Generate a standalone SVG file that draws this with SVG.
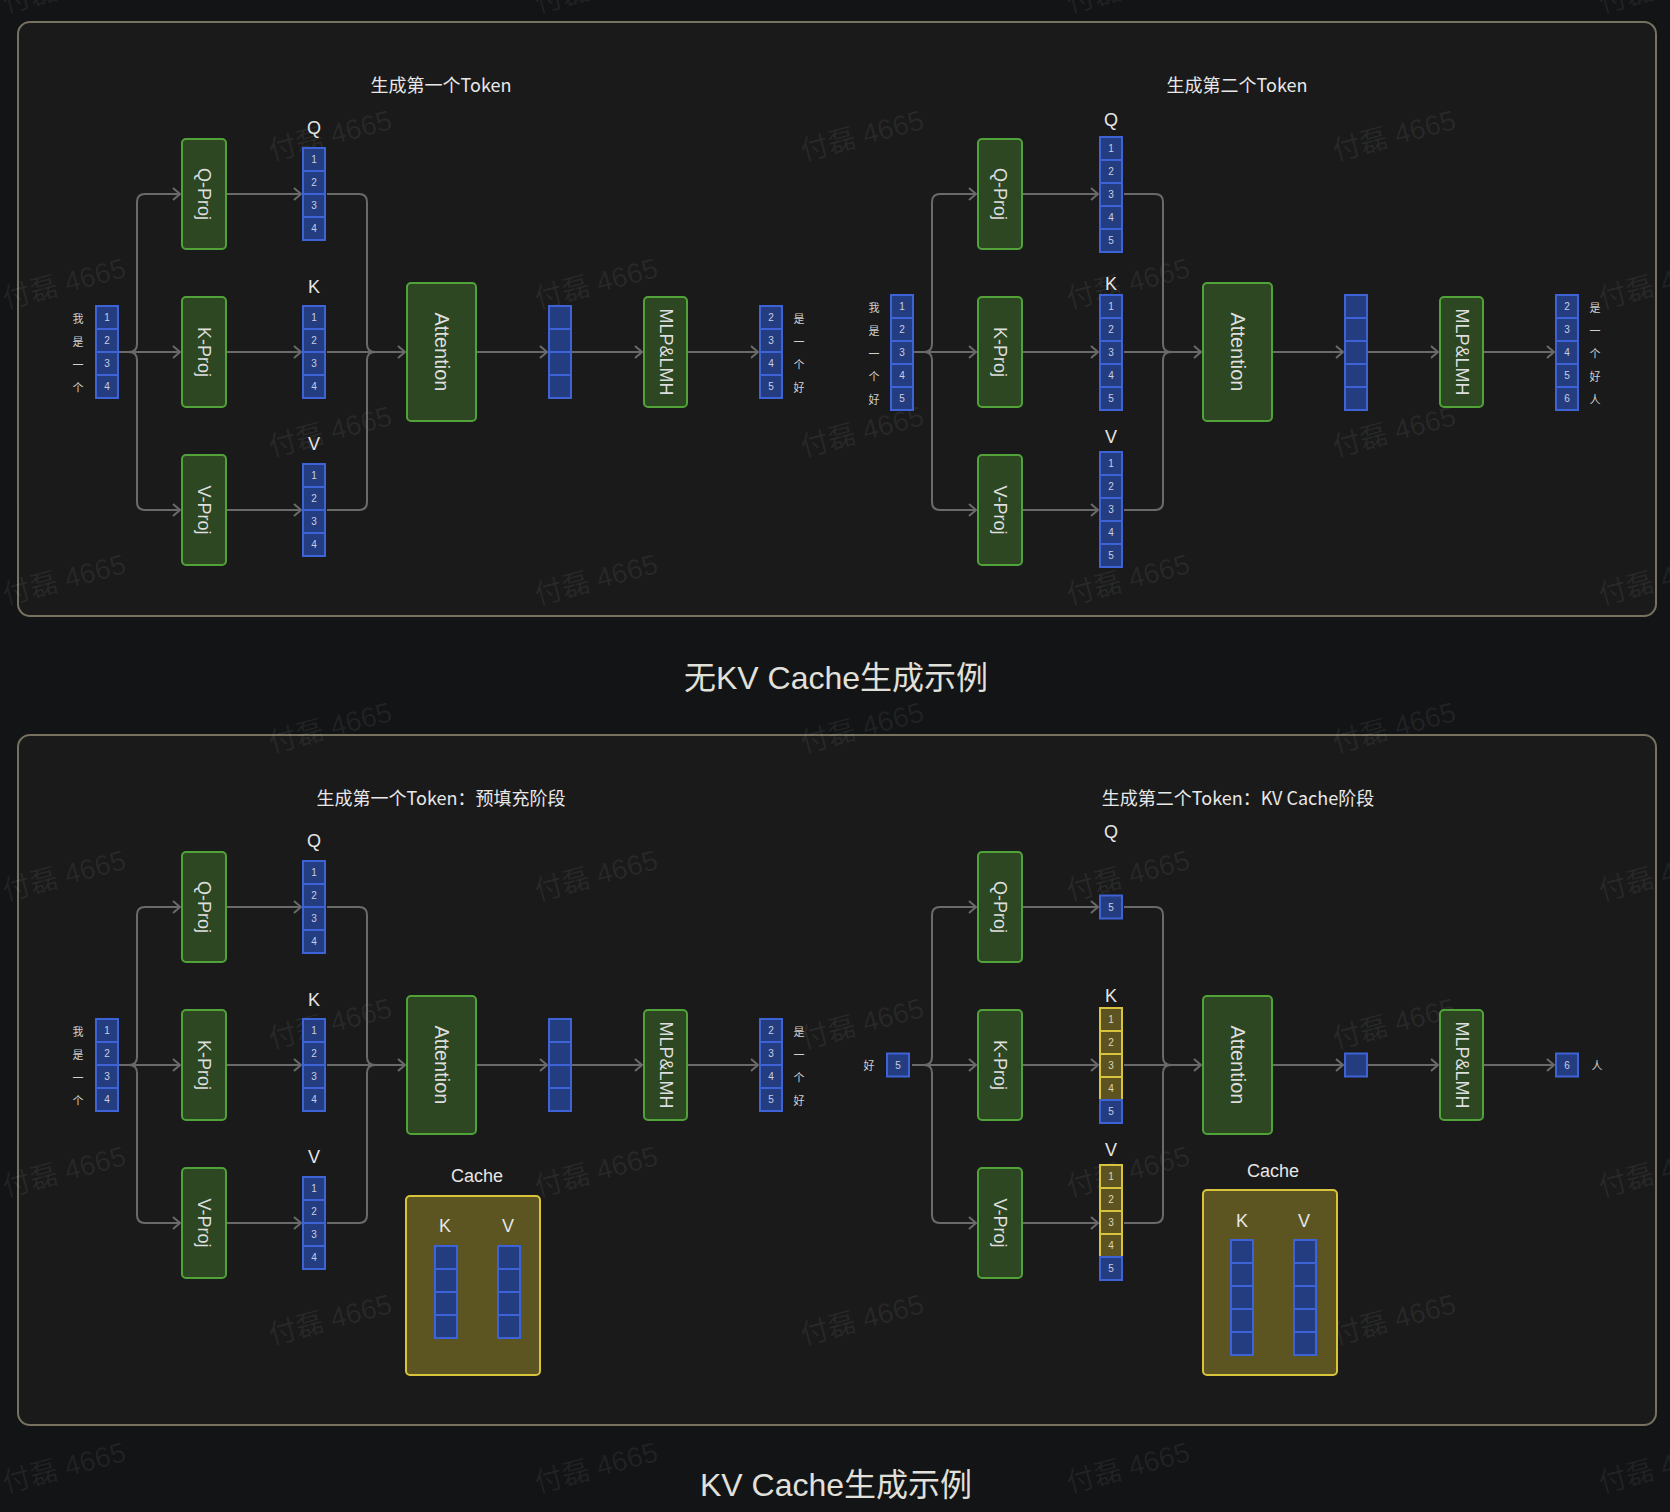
<svg xmlns="http://www.w3.org/2000/svg" width="1670" height="1512" viewBox="0 0 1670 1512">
<defs>
<style>
.bg{fill:#131416}
.panel{fill:#1a1a1a;stroke:#77725f;stroke-width:2}
.wm{font-family:"Liberation Sans","Noto Sans CJK SC",sans-serif;font-size:28px;fill:#ffffff;fill-opacity:0.065;text-anchor:middle}
.box{fill:#2c4722;stroke:#52a23a;stroke-width:2}
.boxt{font-family:"Liberation Sans",Arial,sans-serif;font-size:18px;fill:#dedede;text-anchor:middle;dominant-baseline:central}
.att{font-size:20px}
.cb{fill:#243d80;stroke:#3d63d6;stroke-width:2}
.cy{fill:#5d5320;stroke:#d9c23c;stroke-width:2}
.num{font-family:"Liberation Sans",Arial,sans-serif;font-size:10px;fill:#c9cfe0;text-anchor:middle;dominant-baseline:central}
.numy{fill:#ddd6b4}
.tok{font-family:"Noto Sans CJK SC",sans-serif;font-size:11px;fill:#cfcfcf;text-anchor:middle;dominant-baseline:central}
.lbl{font-family:"Liberation Sans",Arial,sans-serif;font-size:18px;fill:#e6e6e6;text-anchor:middle}
.sub{font-family:"Noto Sans CJK SC",sans-serif;font-size:18px;fill:#e8e8e8;text-anchor:middle}
.ttl{font-family:"Liberation Sans","Noto Sans CJK SC",sans-serif;font-size:32px;fill:#e2e0da;text-anchor:middle}
.cache{fill:#5c5522;stroke:#d8c43a;stroke-width:2}
.ln{fill:none;stroke:#6a6a6a;stroke-width:2}
.ar{marker-end:url(#ah)}
</style>
<marker id="ah" markerWidth="12" markerHeight="14" refX="9" refY="7" orient="auto" markerUnits="userSpaceOnUse">
<path d="M2,1 L9,7 L2,13" fill="none" stroke="#6a6a6a" stroke-width="2"/>
</marker>
</defs>

<rect class="bg" x="0" y="0" width="1670" height="1512"/>
<g id="panels">
<rect class="panel" x="18" y="22" width="1638" height="594" rx="12"/>
<rect class="panel" x="18" y="735" width="1638" height="690" rx="12"/>
</g>

<g id="watermark">
<text class="wm" x="64" y="-3" transform="rotate(-15 64 -13)">付磊 4665</text>
<text class="wm" x="596" y="-3" transform="rotate(-15 596 -13)">付磊 4665</text>
<text class="wm" x="1128" y="-3" transform="rotate(-15 1128 -13)">付磊 4665</text>
<text class="wm" x="1660" y="-3" transform="rotate(-15 1660 -13)">付磊 4665</text>
<text class="wm" x="330" y="145" transform="rotate(-15 330 135)">付磊 4665</text>
<text class="wm" x="862" y="145" transform="rotate(-15 862 135)">付磊 4665</text>
<text class="wm" x="1394" y="145" transform="rotate(-15 1394 135)">付磊 4665</text>
<text class="wm" x="64" y="293" transform="rotate(-15 64 283)">付磊 4665</text>
<text class="wm" x="596" y="293" transform="rotate(-15 596 283)">付磊 4665</text>
<text class="wm" x="1128" y="293" transform="rotate(-15 1128 283)">付磊 4665</text>
<text class="wm" x="1660" y="293" transform="rotate(-15 1660 283)">付磊 4665</text>
<text class="wm" x="330" y="441" transform="rotate(-15 330 431)">付磊 4665</text>
<text class="wm" x="862" y="441" transform="rotate(-15 862 431)">付磊 4665</text>
<text class="wm" x="1394" y="441" transform="rotate(-15 1394 431)">付磊 4665</text>
<text class="wm" x="64" y="589" transform="rotate(-15 64 579)">付磊 4665</text>
<text class="wm" x="596" y="589" transform="rotate(-15 596 579)">付磊 4665</text>
<text class="wm" x="1128" y="589" transform="rotate(-15 1128 579)">付磊 4665</text>
<text class="wm" x="1660" y="589" transform="rotate(-15 1660 579)">付磊 4665</text>
<text class="wm" x="330" y="737" transform="rotate(-15 330 727)">付磊 4665</text>
<text class="wm" x="862" y="737" transform="rotate(-15 862 727)">付磊 4665</text>
<text class="wm" x="1394" y="737" transform="rotate(-15 1394 727)">付磊 4665</text>
<text class="wm" x="64" y="885" transform="rotate(-15 64 875)">付磊 4665</text>
<text class="wm" x="596" y="885" transform="rotate(-15 596 875)">付磊 4665</text>
<text class="wm" x="1128" y="885" transform="rotate(-15 1128 875)">付磊 4665</text>
<text class="wm" x="1660" y="885" transform="rotate(-15 1660 875)">付磊 4665</text>
<text class="wm" x="330" y="1033" transform="rotate(-15 330 1023)">付磊 4665</text>
<text class="wm" x="862" y="1033" transform="rotate(-15 862 1023)">付磊 4665</text>
<text class="wm" x="1394" y="1033" transform="rotate(-15 1394 1023)">付磊 4665</text>
<text class="wm" x="64" y="1181" transform="rotate(-15 64 1171)">付磊 4665</text>
<text class="wm" x="596" y="1181" transform="rotate(-15 596 1171)">付磊 4665</text>
<text class="wm" x="1128" y="1181" transform="rotate(-15 1128 1171)">付磊 4665</text>
<text class="wm" x="1660" y="1181" transform="rotate(-15 1660 1171)">付磊 4665</text>
<text class="wm" x="330" y="1329" transform="rotate(-15 330 1319)">付磊 4665</text>
<text class="wm" x="862" y="1329" transform="rotate(-15 862 1319)">付磊 4665</text>
<text class="wm" x="1394" y="1329" transform="rotate(-15 1394 1319)">付磊 4665</text>
<text class="wm" x="64" y="1477" transform="rotate(-15 64 1467)">付磊 4665</text>
<text class="wm" x="596" y="1477" transform="rotate(-15 596 1467)">付磊 4665</text>
<text class="wm" x="1128" y="1477" transform="rotate(-15 1128 1467)">付磊 4665</text>
<text class="wm" x="1660" y="1477" transform="rotate(-15 1660 1467)">付磊 4665</text>
</g>

<g id="titles">
<text class="ttl" x="836" y="689">无KV Cache生成示例</text>
<text class="ttl" x="836" y="1496">KV Cache生成示例</text>
<text class="sub" x="441" y="92">生成第一个Token</text>
<text class="sub" x="1237" y="92">生成第二个Token</text>
<text class="sub" x="441" y="805">生成第一个Token：预填充阶段</text>
<text class="sub" x="1238" y="805">生成第二个Token：KV Cache阶段</text>
</g>

<g id="connectors">
<!-- top-left -->
<path class="ln ar" d="M119,352 H180"/>
<path class="ln ar" d="M119,352 H129 Q137,352 137,344 V202 Q137,194 145,194 H180"/>
<path class="ln ar" d="M119,352 H129 Q137,352 137,360 V502 Q137,510 145,510 H180"/>
<path class="ln ar" d="M227,194 H301"/>
<path class="ln ar" d="M227,352 H301"/>
<path class="ln ar" d="M227,510 H301"/>
<path class="ln" d="M327,194 H359 Q367,194 367,202 V344 Q367,352 375,352"/>
<path class="ln ar" d="M327,352 H405"/>
<path class="ln" d="M327,510 H359 Q367,510 367,502 V360 Q367,352 375,352"/>
<path class="ln ar" d="M477,352 H547"/>
<path class="ln ar" d="M572,352 H642"/>
<path class="ln ar" d="M688,352 H758"/>
<!-- top-right -->
<path class="ln ar" d="M914,352 H976"/>
<path class="ln ar" d="M914,352 H924 Q932,352 932,344 V202 Q932,194 940,194 H976"/>
<path class="ln ar" d="M914,352 H924 Q932,352 932,360 V502 Q932,510 940,510 H976"/>
<path class="ln ar" d="M1023,194 H1098"/>
<path class="ln ar" d="M1023,352 H1098"/>
<path class="ln ar" d="M1023,510 H1098"/>
<path class="ln" d="M1124,194 H1155 Q1163,194 1163,202 V344 Q1163,352 1171,352"/>
<path class="ln ar" d="M1124,352 H1201"/>
<path class="ln" d="M1124,510 H1155 Q1163,510 1163,502 V360 Q1163,352 1171,352"/>
<path class="ln ar" d="M1273,352 H1343"/>
<path class="ln ar" d="M1368,352 H1438"/>
<path class="ln ar" d="M1484,352 H1554"/>
<!-- bottom-left -->
<path class="ln ar" d="M119,1065 H180"/>
<path class="ln ar" d="M119,1065 H129 Q137,1065 137,1057 V915 Q137,907 145,907 H180"/>
<path class="ln ar" d="M119,1065 H129 Q137,1065 137,1073 V1215 Q137,1223 145,1223 H180"/>
<path class="ln ar" d="M227,907 H301"/>
<path class="ln ar" d="M227,1065 H301"/>
<path class="ln ar" d="M227,1223 H301"/>
<path class="ln" d="M327,907 H359 Q367,907 367,915 V1057 Q367,1065 375,1065"/>
<path class="ln ar" d="M327,1065 H405"/>
<path class="ln" d="M327,1223 H359 Q367,1223 367,1215 V1073 Q367,1065 375,1065"/>
<path class="ln ar" d="M477,1065 H547"/>
<path class="ln ar" d="M572,1065 H642"/>
<path class="ln ar" d="M688,1065 H758"/>
<!-- bottom-right -->
<path class="ln ar" d="M912,1065 H976"/>
<path class="ln ar" d="M912,1065 H924 Q932,1065 932,1057 V915 Q932,907 940,907 H976"/>
<path class="ln ar" d="M912,1065 H924 Q932,1065 932,1073 V1215 Q932,1223 940,1223 H976"/>
<path class="ln ar" d="M1023,907 H1098"/>
<path class="ln ar" d="M1023,1065 H1098"/>
<path class="ln ar" d="M1023,1223 H1098"/>
<path class="ln" d="M1124,907 H1155 Q1163,907 1163,915 V1057 Q1163,1065 1171,1065"/>
<path class="ln ar" d="M1124,1065 H1201"/>
<path class="ln" d="M1124,1223 H1155 Q1163,1223 1163,1215 V1073 Q1163,1065 1171,1065"/>
<path class="ln ar" d="M1273,1065 H1343"/>
<path class="ln ar" d="M1368,1065 H1438"/>
<path class="ln ar" d="M1484,1065 H1554"/>
</g>

<!-- ================= TOP LEFT ================= -->
<g id="tl-input">
<text class="tok" x="78" y="317.5">我</text><text class="tok" x="78" y="340.5">是</text><text class="tok" x="78" y="363.5">一</text><text class="tok" x="78" y="386.5">个</text>
<rect class="cb" x="96" y="306" width="22" height="23"/><rect class="cb" x="96" y="329" width="22" height="23"/><rect class="cb" x="96" y="352" width="22" height="23"/><rect class="cb" x="96" y="375" width="22" height="23"/>
<text class="num" x="107" y="317.5">1</text><text class="num" x="107" y="340.5">2</text><text class="num" x="107" y="363.5">3</text><text class="num" x="107" y="386.5">4</text>
</g>
<g id="tl-qproj"><rect class="box" x="182" y="139" width="44" height="110" rx="4"/><text class="boxt" x="204" y="194" transform="rotate(90 204 194)">Q-Proj</text></g>
<g id="tl-kproj"><rect class="box" x="182" y="297" width="44" height="110" rx="4"/><text class="boxt" x="204" y="352" transform="rotate(90 204 352)">K-Proj</text></g>
<g id="tl-vproj"><rect class="box" x="182" y="455" width="44" height="110" rx="4"/><text class="boxt" x="204" y="510" transform="rotate(90 204 510)">V-Proj</text></g>
<g id="tl-q">
<text class="lbl" x="314" y="133.5">Q</text>
<rect class="cb" x="303" y="148" width="22" height="23"/><rect class="cb" x="303" y="171" width="22" height="23"/><rect class="cb" x="303" y="194" width="22" height="23"/><rect class="cb" x="303" y="217" width="22" height="23"/>
<text class="num" x="314" y="159.5">1</text><text class="num" x="314" y="182.5">2</text><text class="num" x="314" y="205.5">3</text><text class="num" x="314" y="228.5">4</text>
</g>
<g id="tl-k">
<text class="lbl" x="314" y="292.5">K</text>
<rect class="cb" x="303" y="306" width="22" height="23"/><rect class="cb" x="303" y="329" width="22" height="23"/><rect class="cb" x="303" y="352" width="22" height="23"/><rect class="cb" x="303" y="375" width="22" height="23"/>
<text class="num" x="314" y="317.5">1</text><text class="num" x="314" y="340.5">2</text><text class="num" x="314" y="363.5">3</text><text class="num" x="314" y="386.5">4</text>
</g>
<g id="tl-v">
<text class="lbl" x="314" y="449.5">V</text>
<rect class="cb" x="303" y="464" width="22" height="23"/><rect class="cb" x="303" y="487" width="22" height="23"/><rect class="cb" x="303" y="510" width="22" height="23"/><rect class="cb" x="303" y="533" width="22" height="23"/>
<text class="num" x="314" y="475.5">1</text><text class="num" x="314" y="498.5">2</text><text class="num" x="314" y="521.5">3</text><text class="num" x="314" y="544.5">4</text>
</g>
<g id="tl-attention"><rect class="box" x="407" y="283" width="69" height="138" rx="4"/><text class="boxt att" x="441.5" y="352" transform="rotate(90 441.5 352)">Attention</text></g>
<g id="tl-mid">
<rect class="cb" x="549" y="306" width="22" height="23"/><rect class="cb" x="549" y="329" width="22" height="23"/><rect class="cb" x="549" y="352" width="22" height="23"/><rect class="cb" x="549" y="375" width="22" height="23"/>
</g>
<g id="tl-mlp"><rect class="box" x="644" y="297" width="43" height="110" rx="4"/><text class="boxt" x="665.5" y="352" transform="rotate(90 665.5 352)">MLP&amp;LMH</text></g>
<g id="tl-output">
<rect class="cb" x="760" y="306" width="22" height="23"/><rect class="cb" x="760" y="329" width="22" height="23"/><rect class="cb" x="760" y="352" width="22" height="23"/><rect class="cb" x="760" y="375" width="22" height="23"/>
<text class="num" x="771" y="317.5">2</text><text class="num" x="771" y="340.5">3</text><text class="num" x="771" y="363.5">4</text><text class="num" x="771" y="386.5">5</text>
<text class="tok" x="799" y="317.5">是</text><text class="tok" x="799" y="340.5">一</text><text class="tok" x="799" y="363.5">个</text><text class="tok" x="799" y="386.5">好</text>
</g>

<!-- ================= TOP RIGHT ================= -->
<g id="tr-input">
<text class="tok" x="874" y="306.5">我</text><text class="tok" x="874" y="329.5">是</text><text class="tok" x="874" y="352.5">一</text><text class="tok" x="874" y="375.5">个</text><text class="tok" x="874" y="398.5">好</text>
<rect class="cb" x="891" y="295" width="22" height="23"/><rect class="cb" x="891" y="318" width="22" height="23"/><rect class="cb" x="891" y="341" width="22" height="23"/><rect class="cb" x="891" y="364" width="22" height="23"/><rect class="cb" x="891" y="387" width="22" height="23"/>
<text class="num" x="902" y="306.5">1</text><text class="num" x="902" y="329.5">2</text><text class="num" x="902" y="352.5">3</text><text class="num" x="902" y="375.5">4</text><text class="num" x="902" y="398.5">5</text>
</g>
<g id="tr-qproj"><rect class="box" x="978" y="139" width="44" height="110" rx="4"/><text class="boxt" x="1000" y="194" transform="rotate(90 1000 194)">Q-Proj</text></g>
<g id="tr-kproj"><rect class="box" x="978" y="297" width="44" height="110" rx="4"/><text class="boxt" x="1000" y="352" transform="rotate(90 1000 352)">K-Proj</text></g>
<g id="tr-vproj"><rect class="box" x="978" y="455" width="44" height="110" rx="4"/><text class="boxt" x="1000" y="510" transform="rotate(90 1000 510)">V-Proj</text></g>
<g id="tr-q">
<text class="lbl" x="1111" y="125.5">Q</text>
<rect class="cb" x="1100" y="137" width="22" height="23"/><rect class="cb" x="1100" y="160" width="22" height="23"/><rect class="cb" x="1100" y="183" width="22" height="23"/><rect class="cb" x="1100" y="206" width="22" height="23"/><rect class="cb" x="1100" y="229" width="22" height="23"/>
<text class="num" x="1111" y="148.5">1</text><text class="num" x="1111" y="171.5">2</text><text class="num" x="1111" y="194.5">3</text><text class="num" x="1111" y="217.5">4</text><text class="num" x="1111" y="240.5">5</text>
</g>
<g id="tr-k">
<text class="lbl" x="1111" y="289.5">K</text>
<rect class="cb" x="1100" y="295" width="22" height="23"/><rect class="cb" x="1100" y="318" width="22" height="23"/><rect class="cb" x="1100" y="341" width="22" height="23"/><rect class="cb" x="1100" y="364" width="22" height="23"/><rect class="cb" x="1100" y="387" width="22" height="23"/>
<text class="num" x="1111" y="306.5">1</text><text class="num" x="1111" y="329.5">2</text><text class="num" x="1111" y="352.5">3</text><text class="num" x="1111" y="375.5">4</text><text class="num" x="1111" y="398.5">5</text>
</g>
<g id="tr-v">
<text class="lbl" x="1111" y="443">V</text>
<rect class="cb" x="1100" y="452" width="22" height="23"/><rect class="cb" x="1100" y="475" width="22" height="23"/><rect class="cb" x="1100" y="498" width="22" height="23"/><rect class="cb" x="1100" y="521" width="22" height="23"/><rect class="cb" x="1100" y="544" width="22" height="23"/>
<text class="num" x="1111" y="463.5">1</text><text class="num" x="1111" y="486.5">2</text><text class="num" x="1111" y="509.5">3</text><text class="num" x="1111" y="532.5">4</text><text class="num" x="1111" y="555.5">5</text>
</g>
<g id="tr-attention"><rect class="box" x="1203" y="283" width="69" height="138" rx="4"/><text class="boxt att" x="1237.5" y="352" transform="rotate(90 1237.5 352)">Attention</text></g>
<g id="tr-mid">
<rect class="cb" x="1345" y="295" width="22" height="23"/><rect class="cb" x="1345" y="318" width="22" height="23"/><rect class="cb" x="1345" y="341" width="22" height="23"/><rect class="cb" x="1345" y="364" width="22" height="23"/><rect class="cb" x="1345" y="387" width="22" height="23"/>
</g>
<g id="tr-mlp"><rect class="box" x="1440" y="297" width="43" height="110" rx="4"/><text class="boxt" x="1461.5" y="352" transform="rotate(90 1461.5 352)">MLP&amp;LMH</text></g>
<g id="tr-output">
<rect class="cb" x="1556" y="295" width="22" height="23"/><rect class="cb" x="1556" y="318" width="22" height="23"/><rect class="cb" x="1556" y="341" width="22" height="23"/><rect class="cb" x="1556" y="364" width="22" height="23"/><rect class="cb" x="1556" y="387" width="22" height="23"/>
<text class="num" x="1567" y="306.5">2</text><text class="num" x="1567" y="329.5">3</text><text class="num" x="1567" y="352.5">4</text><text class="num" x="1567" y="375.5">5</text><text class="num" x="1567" y="398.5">6</text>
<text class="tok" x="1595" y="306.5">是</text><text class="tok" x="1595" y="329.5">一</text><text class="tok" x="1595" y="352.5">个</text><text class="tok" x="1595" y="375.5">好</text><text class="tok" x="1595" y="398.5">人</text>
</g>

<!-- ================= BOTTOM LEFT ================= -->
<g id="bl-input">
<text class="tok" x="78" y="1030.5">我</text><text class="tok" x="78" y="1053.5">是</text><text class="tok" x="78" y="1076.5">一</text><text class="tok" x="78" y="1099.5">个</text>
<rect class="cb" x="96" y="1019" width="22" height="23"/><rect class="cb" x="96" y="1042" width="22" height="23"/><rect class="cb" x="96" y="1065" width="22" height="23"/><rect class="cb" x="96" y="1088" width="22" height="23"/>
<text class="num" x="107" y="1030.5">1</text><text class="num" x="107" y="1053.5">2</text><text class="num" x="107" y="1076.5">3</text><text class="num" x="107" y="1099.5">4</text>
</g>
<g id="bl-qproj"><rect class="box" x="182" y="852" width="44" height="110" rx="4"/><text class="boxt" x="204" y="907" transform="rotate(90 204 907)">Q-Proj</text></g>
<g id="bl-kproj"><rect class="box" x="182" y="1010" width="44" height="110" rx="4"/><text class="boxt" x="204" y="1065" transform="rotate(90 204 1065)">K-Proj</text></g>
<g id="bl-vproj"><rect class="box" x="182" y="1168" width="44" height="110" rx="4"/><text class="boxt" x="204" y="1223" transform="rotate(90 204 1223)">V-Proj</text></g>
<g id="bl-q">
<text class="lbl" x="314" y="846.5">Q</text>
<rect class="cb" x="303" y="861" width="22" height="23"/><rect class="cb" x="303" y="884" width="22" height="23"/><rect class="cb" x="303" y="907" width="22" height="23"/><rect class="cb" x="303" y="930" width="22" height="23"/>
<text class="num" x="314" y="872.5">1</text><text class="num" x="314" y="895.5">2</text><text class="num" x="314" y="918.5">3</text><text class="num" x="314" y="941.5">4</text>
</g>
<g id="bl-k">
<text class="lbl" x="314" y="1005.5">K</text>
<rect class="cb" x="303" y="1019" width="22" height="23"/><rect class="cb" x="303" y="1042" width="22" height="23"/><rect class="cb" x="303" y="1065" width="22" height="23"/><rect class="cb" x="303" y="1088" width="22" height="23"/>
<text class="num" x="314" y="1030.5">1</text><text class="num" x="314" y="1053.5">2</text><text class="num" x="314" y="1076.5">3</text><text class="num" x="314" y="1099.5">4</text>
</g>
<g id="bl-v">
<text class="lbl" x="314" y="1162.5">V</text>
<rect class="cb" x="303" y="1177" width="22" height="23"/><rect class="cb" x="303" y="1200" width="22" height="23"/><rect class="cb" x="303" y="1223" width="22" height="23"/><rect class="cb" x="303" y="1246" width="22" height="23"/>
<text class="num" x="314" y="1188.5">1</text><text class="num" x="314" y="1211.5">2</text><text class="num" x="314" y="1234.5">3</text><text class="num" x="314" y="1257.5">4</text>
</g>
<g id="bl-attention"><rect class="box" x="407" y="996" width="69" height="138" rx="4"/><text class="boxt att" x="441.5" y="1065" transform="rotate(90 441.5 1065)">Attention</text></g>
<g id="bl-mid">
<rect class="cb" x="549" y="1019" width="22" height="23"/><rect class="cb" x="549" y="1042" width="22" height="23"/><rect class="cb" x="549" y="1065" width="22" height="23"/><rect class="cb" x="549" y="1088" width="22" height="23"/>
</g>
<g id="bl-mlp"><rect class="box" x="644" y="1010" width="43" height="110" rx="4"/><text class="boxt" x="665.5" y="1065" transform="rotate(90 665.5 1065)">MLP&amp;LMH</text></g>
<g id="bl-output">
<rect class="cb" x="760" y="1019" width="22" height="23"/><rect class="cb" x="760" y="1042" width="22" height="23"/><rect class="cb" x="760" y="1065" width="22" height="23"/><rect class="cb" x="760" y="1088" width="22" height="23"/>
<text class="num" x="771" y="1030.5">2</text><text class="num" x="771" y="1053.5">3</text><text class="num" x="771" y="1076.5">4</text><text class="num" x="771" y="1099.5">5</text>
<text class="tok" x="799" y="1030.5">是</text><text class="tok" x="799" y="1053.5">一</text><text class="tok" x="799" y="1076.5">个</text><text class="tok" x="799" y="1099.5">好</text>
</g>
<g id="bl-cache">
<text class="lbl" x="477" y="1182">Cache</text>
<rect class="cache" x="406" y="1196" width="134" height="179" rx="4"/>
<text class="lbl" x="445" y="1232">K</text>
<text class="lbl" x="508" y="1232">V</text>
<rect class="cb" x="435" y="1246" width="22" height="23"/><rect class="cb" x="435" y="1269" width="22" height="23"/><rect class="cb" x="435" y="1292" width="22" height="23"/><rect class="cb" x="435" y="1315" width="22" height="23"/>
<rect class="cb" x="498" y="1246" width="22" height="23"/><rect class="cb" x="498" y="1269" width="22" height="23"/><rect class="cb" x="498" y="1292" width="22" height="23"/><rect class="cb" x="498" y="1315" width="22" height="23"/>
</g>

<!-- ================= BOTTOM RIGHT ================= -->
<g id="br-input">
<text class="tok" x="869" y="1065">好</text>
<rect class="cb" x="887" y="1053.5" width="22" height="23"/>
<text class="num" x="898" y="1065">5</text>
</g>
<g id="br-qproj"><rect class="box" x="978" y="852" width="44" height="110" rx="4"/><text class="boxt" x="1000" y="907" transform="rotate(90 1000 907)">Q-Proj</text></g>
<g id="br-kproj"><rect class="box" x="978" y="1010" width="44" height="110" rx="4"/><text class="boxt" x="1000" y="1065" transform="rotate(90 1000 1065)">K-Proj</text></g>
<g id="br-vproj"><rect class="box" x="978" y="1168" width="44" height="110" rx="4"/><text class="boxt" x="1000" y="1223" transform="rotate(90 1000 1223)">V-Proj</text></g>
<g id="br-q">
<text class="lbl" x="1111" y="838">Q</text>
<rect class="cb" x="1100" y="895.5" width="22" height="23"/>
<text class="num" x="1111" y="907">5</text>
</g>
<g id="br-k">
<text class="lbl" x="1111" y="1002">K</text>
<rect class="cy" x="1100" y="1008" width="22" height="23"/><rect class="cy" x="1100" y="1031" width="22" height="23"/><rect class="cy" x="1100" y="1054" width="22" height="23"/><rect class="cy" x="1100" y="1077" width="22" height="23"/><rect class="cb" x="1100" y="1100" width="22" height="23"/>
<text class="num numy" x="1111" y="1019.5">1</text><text class="num numy" x="1111" y="1042.5">2</text><text class="num numy" x="1111" y="1065.5">3</text><text class="num numy" x="1111" y="1088.5">4</text><text class="num" x="1111" y="1111.5">5</text>
</g>
<g id="br-v">
<text class="lbl" x="1111" y="1156">V</text>
<rect class="cy" x="1100" y="1165" width="22" height="23"/><rect class="cy" x="1100" y="1188" width="22" height="23"/><rect class="cy" x="1100" y="1211" width="22" height="23"/><rect class="cy" x="1100" y="1234" width="22" height="23"/><rect class="cb" x="1100" y="1257" width="22" height="23"/>
<text class="num numy" x="1111" y="1176.5">1</text><text class="num numy" x="1111" y="1199.5">2</text><text class="num numy" x="1111" y="1222.5">3</text><text class="num numy" x="1111" y="1245.5">4</text><text class="num" x="1111" y="1268.5">5</text>
</g>
<g id="br-attention"><rect class="box" x="1203" y="996" width="69" height="138" rx="4"/><text class="boxt att" x="1237.5" y="1065" transform="rotate(90 1237.5 1065)">Attention</text></g>
<g id="br-mid"><rect class="cb" x="1345" y="1053.5" width="22" height="23"/></g>
<g id="br-mlp"><rect class="box" x="1440" y="1010" width="43" height="110" rx="4"/><text class="boxt" x="1461.5" y="1065" transform="rotate(90 1461.5 1065)">MLP&amp;LMH</text></g>
<g id="br-output">
<rect class="cb" x="1556" y="1053.5" width="22" height="23"/>
<text class="num" x="1567" y="1065">6</text>
<text class="tok" x="1597" y="1065">人</text>
</g>
<g id="br-cache">
<text class="lbl" x="1273" y="1177">Cache</text>
<rect class="cache" x="1203" y="1190" width="134" height="185" rx="4"/>
<text class="lbl" x="1242" y="1226.5">K</text>
<text class="lbl" x="1304" y="1226.5">V</text>
<rect class="cb" x="1231" y="1240" width="22" height="23"/><rect class="cb" x="1231" y="1263" width="22" height="23"/><rect class="cb" x="1231" y="1286" width="22" height="23"/><rect class="cb" x="1231" y="1309" width="22" height="23"/><rect class="cb" x="1231" y="1332" width="22" height="23"/>
<rect class="cb" x="1294" y="1240" width="22" height="23"/><rect class="cb" x="1294" y="1263" width="22" height="23"/><rect class="cb" x="1294" y="1286" width="22" height="23"/><rect class="cb" x="1294" y="1309" width="22" height="23"/><rect class="cb" x="1294" y="1332" width="22" height="23"/>
</g>
</svg>
